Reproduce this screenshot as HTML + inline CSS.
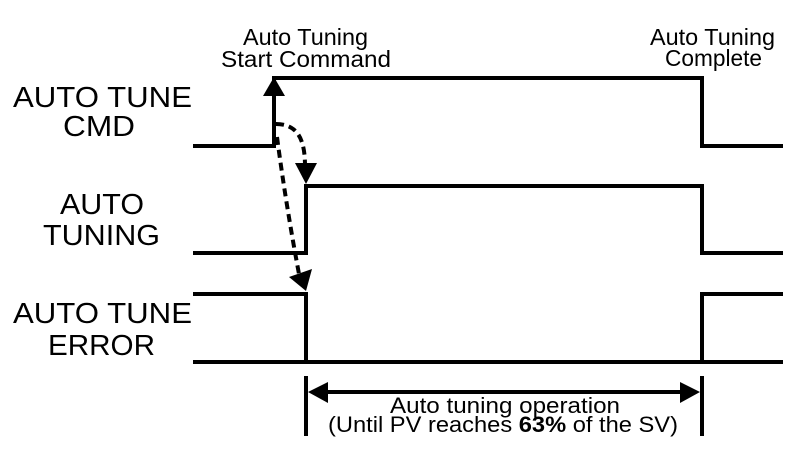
<!DOCTYPE html>
<html><head><meta charset="utf-8"><style>
html,body{margin:0;padding:0;background:#fff;}
svg{display:block;}
text{font-family:"Liberation Sans",Arial,sans-serif;fill:#000;}
</style></head><body>
<svg width="796" height="452" viewBox="0 0 796 452" xmlns="http://www.w3.org/2000/svg">
<rect width="796" height="452" fill="#fff"/>
<g fill="none" stroke="#000" stroke-width="4" stroke-linejoin="miter" stroke-linecap="butt">
  <!-- CMD -->
  <polyline points="193,146 274,146 274,78 702,78 702,146 783,146"/>
  <!-- AUTO TUNING -->
  <polyline points="193,253 306,253 306,186 702,186 702,253 783,253"/>
  <!-- ERROR -->
  <polyline points="193,294 306,294 306,362"/>
  <line x1="193" y1="362" x2="783" y2="362"/>
  <polyline points="702,362 702,294 783,294"/>
  <!-- bracket -->
  <line x1="306" y1="376" x2="306" y2="436"/>
  <line x1="702" y1="376" x2="702" y2="436"/>
  <line x1="320" y1="392" x2="688" y2="392"/>
  <!-- dashed connectors -->
  <path d="M276,124 C298,124 305,140 305,166" stroke-dasharray="8,5"/>
  <path d="M277,137 Q286,205 299,274" stroke-dasharray="8,5"/>
</g>
<g fill="#000" stroke="none">
  <polygon points="274,77 263,96 285,96"/>
  <polygon points="306,184 295,163 317,163"/>
  <polygon points="306,291 289,277 312,269"/>
  <polygon points="308,392 328,382 328,403"/>
  <polygon points="700,392 680,382 680,403"/>
</g>
<!-- left labels -->
<text x="13" y="107" font-size="29" textLength="179" lengthAdjust="spacingAndGlyphs">AUTO TUNE</text>
<text x="63" y="136" font-size="29" textLength="72" lengthAdjust="spacingAndGlyphs">CMD</text>
<text x="60" y="214" font-size="29" textLength="84" lengthAdjust="spacingAndGlyphs">AUTO</text>
<text x="43" y="245" font-size="29" textLength="117" lengthAdjust="spacingAndGlyphs">TUNING</text>
<text x="13" y="323" font-size="29" textLength="179" lengthAdjust="spacingAndGlyphs">AUTO TUNE</text>
<text x="48" y="355" font-size="29" textLength="107" lengthAdjust="spacingAndGlyphs">ERROR</text>
<!-- top labels -->
<text x="243" y="45" font-size="23" textLength="125" lengthAdjust="spacingAndGlyphs">Auto Tuning</text>
<text x="221" y="67" font-size="23" textLength="170" lengthAdjust="spacingAndGlyphs">Start Command</text>
<text x="650" y="45" font-size="23" textLength="125" lengthAdjust="spacingAndGlyphs">Auto Tuning</text>
<text x="665" y="66" font-size="23" textLength="97" lengthAdjust="spacingAndGlyphs">Complete</text>
<!-- bottom labels -->
<text x="390" y="413" font-size="22" textLength="230" lengthAdjust="spacingAndGlyphs">Auto tuning operation</text>
<text x="328" y="432" font-size="22" textLength="350" lengthAdjust="spacingAndGlyphs">(Until PV reaches <tspan font-weight="bold">63%</tspan> of the SV)</text>
</svg>
</body></html>
